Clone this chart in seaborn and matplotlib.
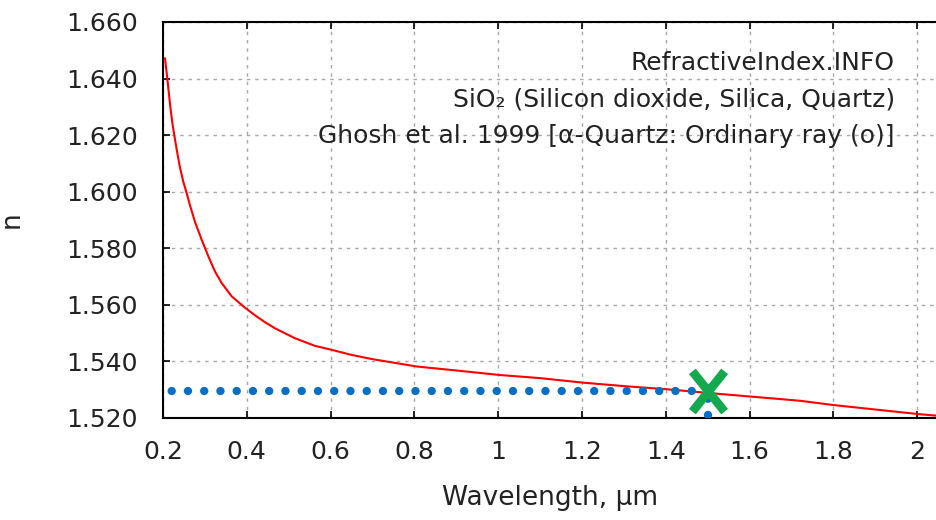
import matplotlib
matplotlib.use("Agg")
import matplotlib.pyplot as plt
from matplotlib.path import Path
import seaborn as sns
import pandas as pd

# ---- data ----
wavelength_um = [0.2048, 0.2103, 0.2167, 0.2226, 0.2286, 0.2346, 0.2406, 0.2485, 0.2565, 0.2644,
                 0.2764, 0.2924, 0.3081, 0.3241, 0.3401, 0.3640, 0.3957, 0.4196, 0.4430, 0.4673,
                 0.5150, 0.5628, 0.6026, 0.6500, 0.7000, 0.8060, 0.9000, 1.0040, 1.1000, 1.2020,
                 1.3150, 1.4000, 1.5130, 1.6010, 1.7200, 1.7990, 1.9000, 2.0020, 2.0470]
n_index = [1.6472, 1.6400, 1.6310, 1.6240, 1.6185, 1.6133, 1.6085, 1.6035, 1.5995, 1.5952,
           1.5893, 1.5830, 1.5772, 1.5718, 1.5677, 1.5630, 1.5590, 1.5563, 1.5539, 1.5517,
           1.5482, 1.5455, 1.5441, 1.5423, 1.5408, 1.5382, 1.5368, 1.5352, 1.5341, 1.5325,
           1.5311, 1.5302, 1.5287, 1.5276, 1.5261, 1.5246, 1.5230, 1.5214, 1.5208]

point_wl = [1.5]
point_n = [1.5295]
h_guide_wl = [1.5, 0.2]
h_guide_n = [1.5295, 1.5295]
v_guide_wl = [1.5, 1.5]
v_guide_n = [1.5211, 1.5295]

x_ticks = [0.2, 0.4, 0.6, 0.8, 1.0, 1.2, 1.4, 1.6, 1.8, 2.0]
x_tick_labels = ["0.2", "0.4", "0.6", "0.8", "1", "1.2", "1.4", "1.6", "1.8", "2"]
y_ticks = [1.52, 1.54, 1.56, 1.58, 1.60, 1.62, 1.64, 1.66]
y_tick_labels = ["1.520", "1.540", "1.560", "1.580", "1.600", "1.620", "1.640", "1.660"]

info_lines = ["RefractiveIndex.INFO",
              "SiO\u2082 (Silicon dioxide, Silica, Quartz)",
              "Ghosh et al. 1999 [\u03b1-Quartz: Ordinary ray (o)]"]

# ---- style ----
sns.set_theme(style="white")
plt.rcParams["font.family"] = ["DejaVu Sans"]
text_color = "#222222"

fig = plt.figure(figsize=(9.37, 5.20), dpi=100)
ax = fig.add_axes([163 / 937, 102 / 520, 774 / 937, 396 / 520])

df = pd.DataFrame({"wl": wavelength_um, "n": n_index})
sns.lineplot(data=df, x="wl", y="n", ax=ax, color="#ff0000", linewidth=1.5,
             sort=False, estimator=None, zorder=3)

dot_style = dict(color="#0a6fc2", linewidth=6, linestyle=(0, (0.01, 1.94)),
                 dash_capstyle="round", zorder=4)
ax.plot(h_guide_wl, h_guide_n, **dot_style)
ax.plot(v_guide_wl, v_guide_n, **dot_style)

x_marker = Path([(-0.8, -1), (0.8, 1), (-0.8, 1), (0.8, -1)],
                [Path.MOVETO, Path.LINETO, Path.MOVETO, Path.LINETO])
ax.plot(point_wl, point_n, linestyle="none", marker=x_marker, markersize=29,
        markeredgewidth=6.3, markeredgecolor="#14a84f", markerfacecolor="none",
        zorder=5)

ax.set_xlim(0.2, 0.2 + 774 / 419)
ax.set_ylim(1.52, 1.66)
ax.set_xticks(x_ticks)
ax.set_xticklabels(x_tick_labels)
ax.set_yticks(y_ticks)
ax.set_yticklabels(y_tick_labels)

ax.grid(True, color="#a8a8a8", linewidth=1.0, linestyle=(0, (2.5, 3.5)))
ax.set_axisbelow(True)

for side in ["left", "bottom", "top"]:
    ax.spines[side].set_visible(True)
    ax.spines[side].set_color("#000000")
    ax.spines[side].set_linewidth(1.5)
ax.spines["right"].set_visible(False)

ax.tick_params(axis="x", direction="in", length=5, width=1.2, color="#000000",
               top=True, bottom=True, labelsize=18, labelcolor=text_color, pad=16)
ax.tick_params(axis="y", direction="in", length=5, width=1.2, color="#000000",
               left=True, right=False, labelsize=18, labelcolor=text_color, pad=18)

ax.set_xlabel("Wavelength, \u00b5m", fontsize=19, color=text_color, labelpad=15)
ax.set_ylabel("n", fontsize=19, color=text_color, labelpad=30)

baselines = [0.8788, 0.7866, 0.6944]
for line, yb in zip(info_lines, baselines):
    ax.text(0.9457, yb, line, transform=ax.transAxes, ha="right", va="baseline",
            fontsize=18, color=text_color, zorder=6)

fig.savefig("out.png", dpi=100)
